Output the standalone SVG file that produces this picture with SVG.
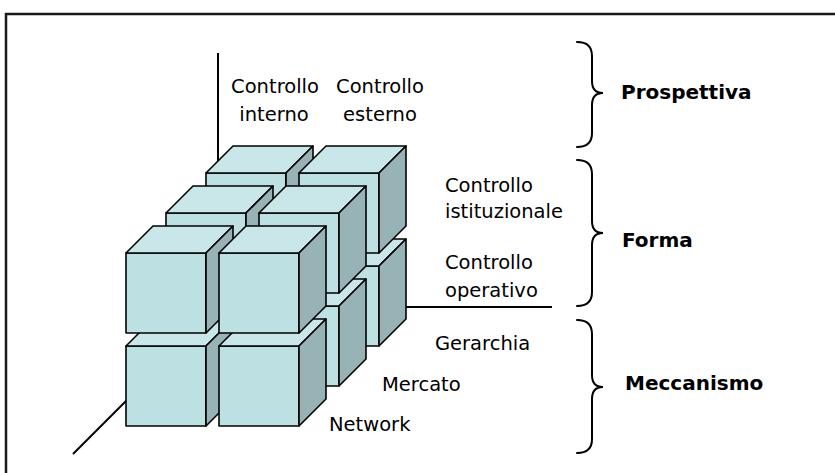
<svg xmlns="http://www.w3.org/2000/svg" xmlns:xlink="http://www.w3.org/1999/xlink" width="835" height="473" viewBox="0 0 835 473">
<style>
.t{font-family:"DejaVu Sans",Verdana,sans-serif;font-size:19.5px;fill:#000}
.b{font-family:"DejaVu Sans",Verdana,sans-serif;font-size:20px;font-weight:bold;fill:#000}
.ax{stroke:#000;stroke-width:2;fill:none}
.br{stroke:#000;stroke-width:2;fill:none;stroke-linecap:round}
.f{fill:#BDE0E3}.tp{fill:#C9E6E9}.s{fill:#97B3B5}
.cube *{stroke:#000;stroke-width:1.6;stroke-linejoin:round}
</style>
<defs>
<g id="cube" class="cube">
<rect class="f" x="0" y="0" width="80" height="80"/>
<polygon class="tp" points="0,0 27,-27 107,-27 80,0"/>
<polygon class="s" points="80,0 107,-27 107,53 80,80"/>
</g>
</defs>
<rect x="6" y="14" width="840" height="470" fill="#fff" stroke="#1a1a1a" stroke-width="2.5"/>
<g id="connectors">
<line class="ax" x1="218" y1="53" x2="218" y2="175"/>
<line class="ax" x1="390" y1="307" x2="552" y2="307"/>
<line class="ax" x1="73" y1="454" x2="150" y2="377"/>
</g>
<g id="cubes">
<g id="c2-bl"><use xlink:href="#cube" href="#cube" x="206" y="266"/></g>
<g id="c2-br"><use xlink:href="#cube" href="#cube" x="299" y="266"/></g>
<g id="c2-tl"><use xlink:href="#cube" href="#cube" x="206" y="173"/></g>
<g id="c2-tr"><use xlink:href="#cube" href="#cube" x="299" y="173"/></g>
<g id="c1-bl"><use xlink:href="#cube" href="#cube" x="166" y="306"/></g>
<g id="c1-br"><use xlink:href="#cube" href="#cube" x="259" y="306"/></g>
<g id="c1-tl"><use xlink:href="#cube" href="#cube" x="166" y="213"/></g>
<g id="c1-tr"><use xlink:href="#cube" href="#cube" x="259" y="213"/></g>
<g id="c0-bl"><use xlink:href="#cube" href="#cube" x="126" y="346"/></g>
<g id="c0-br"><use xlink:href="#cube" href="#cube" x="219" y="346"/></g>
<g id="c0-tl"><use xlink:href="#cube" href="#cube" x="126" y="253"/></g>
<g id="c0-tr"><use xlink:href="#cube" href="#cube" x="219" y="253"/></g>
</g>
<g id="label-interno"><text class="t" x="275" y="93" text-anchor="middle">Controllo</text><text class="t" x="274" y="121" text-anchor="middle">interno</text></g>
<g id="label-esterno"><text class="t" x="380" y="93" text-anchor="middle">Controllo</text><text class="t" x="380" y="121" text-anchor="middle">esterno</text></g>
<g id="label-istituzionale"><text class="t" x="445" y="192">Controllo</text><text class="t" x="445" y="218">istituzionale</text></g>
<g id="label-operativo"><text class="t" x="445" y="269">Controllo</text><text class="t" x="445" y="297">operativo</text></g>
<g id="label-gerarchia"><text class="t" x="435" y="350">Gerarchia</text></g>
<g id="label-mercato"><text class="t" x="382" y="391">Mercato</text></g>
<g id="label-network"><text class="t" x="329" y="431">Network</text></g>
<g id="brace-prospettiva">
<path class="br" d="M577,42 Q592,42 592,56 L592,81 Q592,93 603,93 Q592,93 592,105 L592,133 Q592,147 577,147"/>
<text class="b" x="621" y="99">Prospettiva</text>
</g>
<g id="brace-forma">
<path class="br" d="M577,160 Q592,160 592,174 L592,221 Q592,233 603,233 Q592,233 592,245 L592,292 Q592,306 577,306"/>
<text class="b" x="622" y="247">Forma</text>
</g>
<g id="brace-meccanismo">
<path class="br" d="M577,320 Q592,320 592,334 L592,375 Q592,387 603,387 Q592,387 592,399 L592,439 Q592,453 577,453"/>
<text class="b" x="625" y="390">Meccanismo</text>
</g>
</svg>
